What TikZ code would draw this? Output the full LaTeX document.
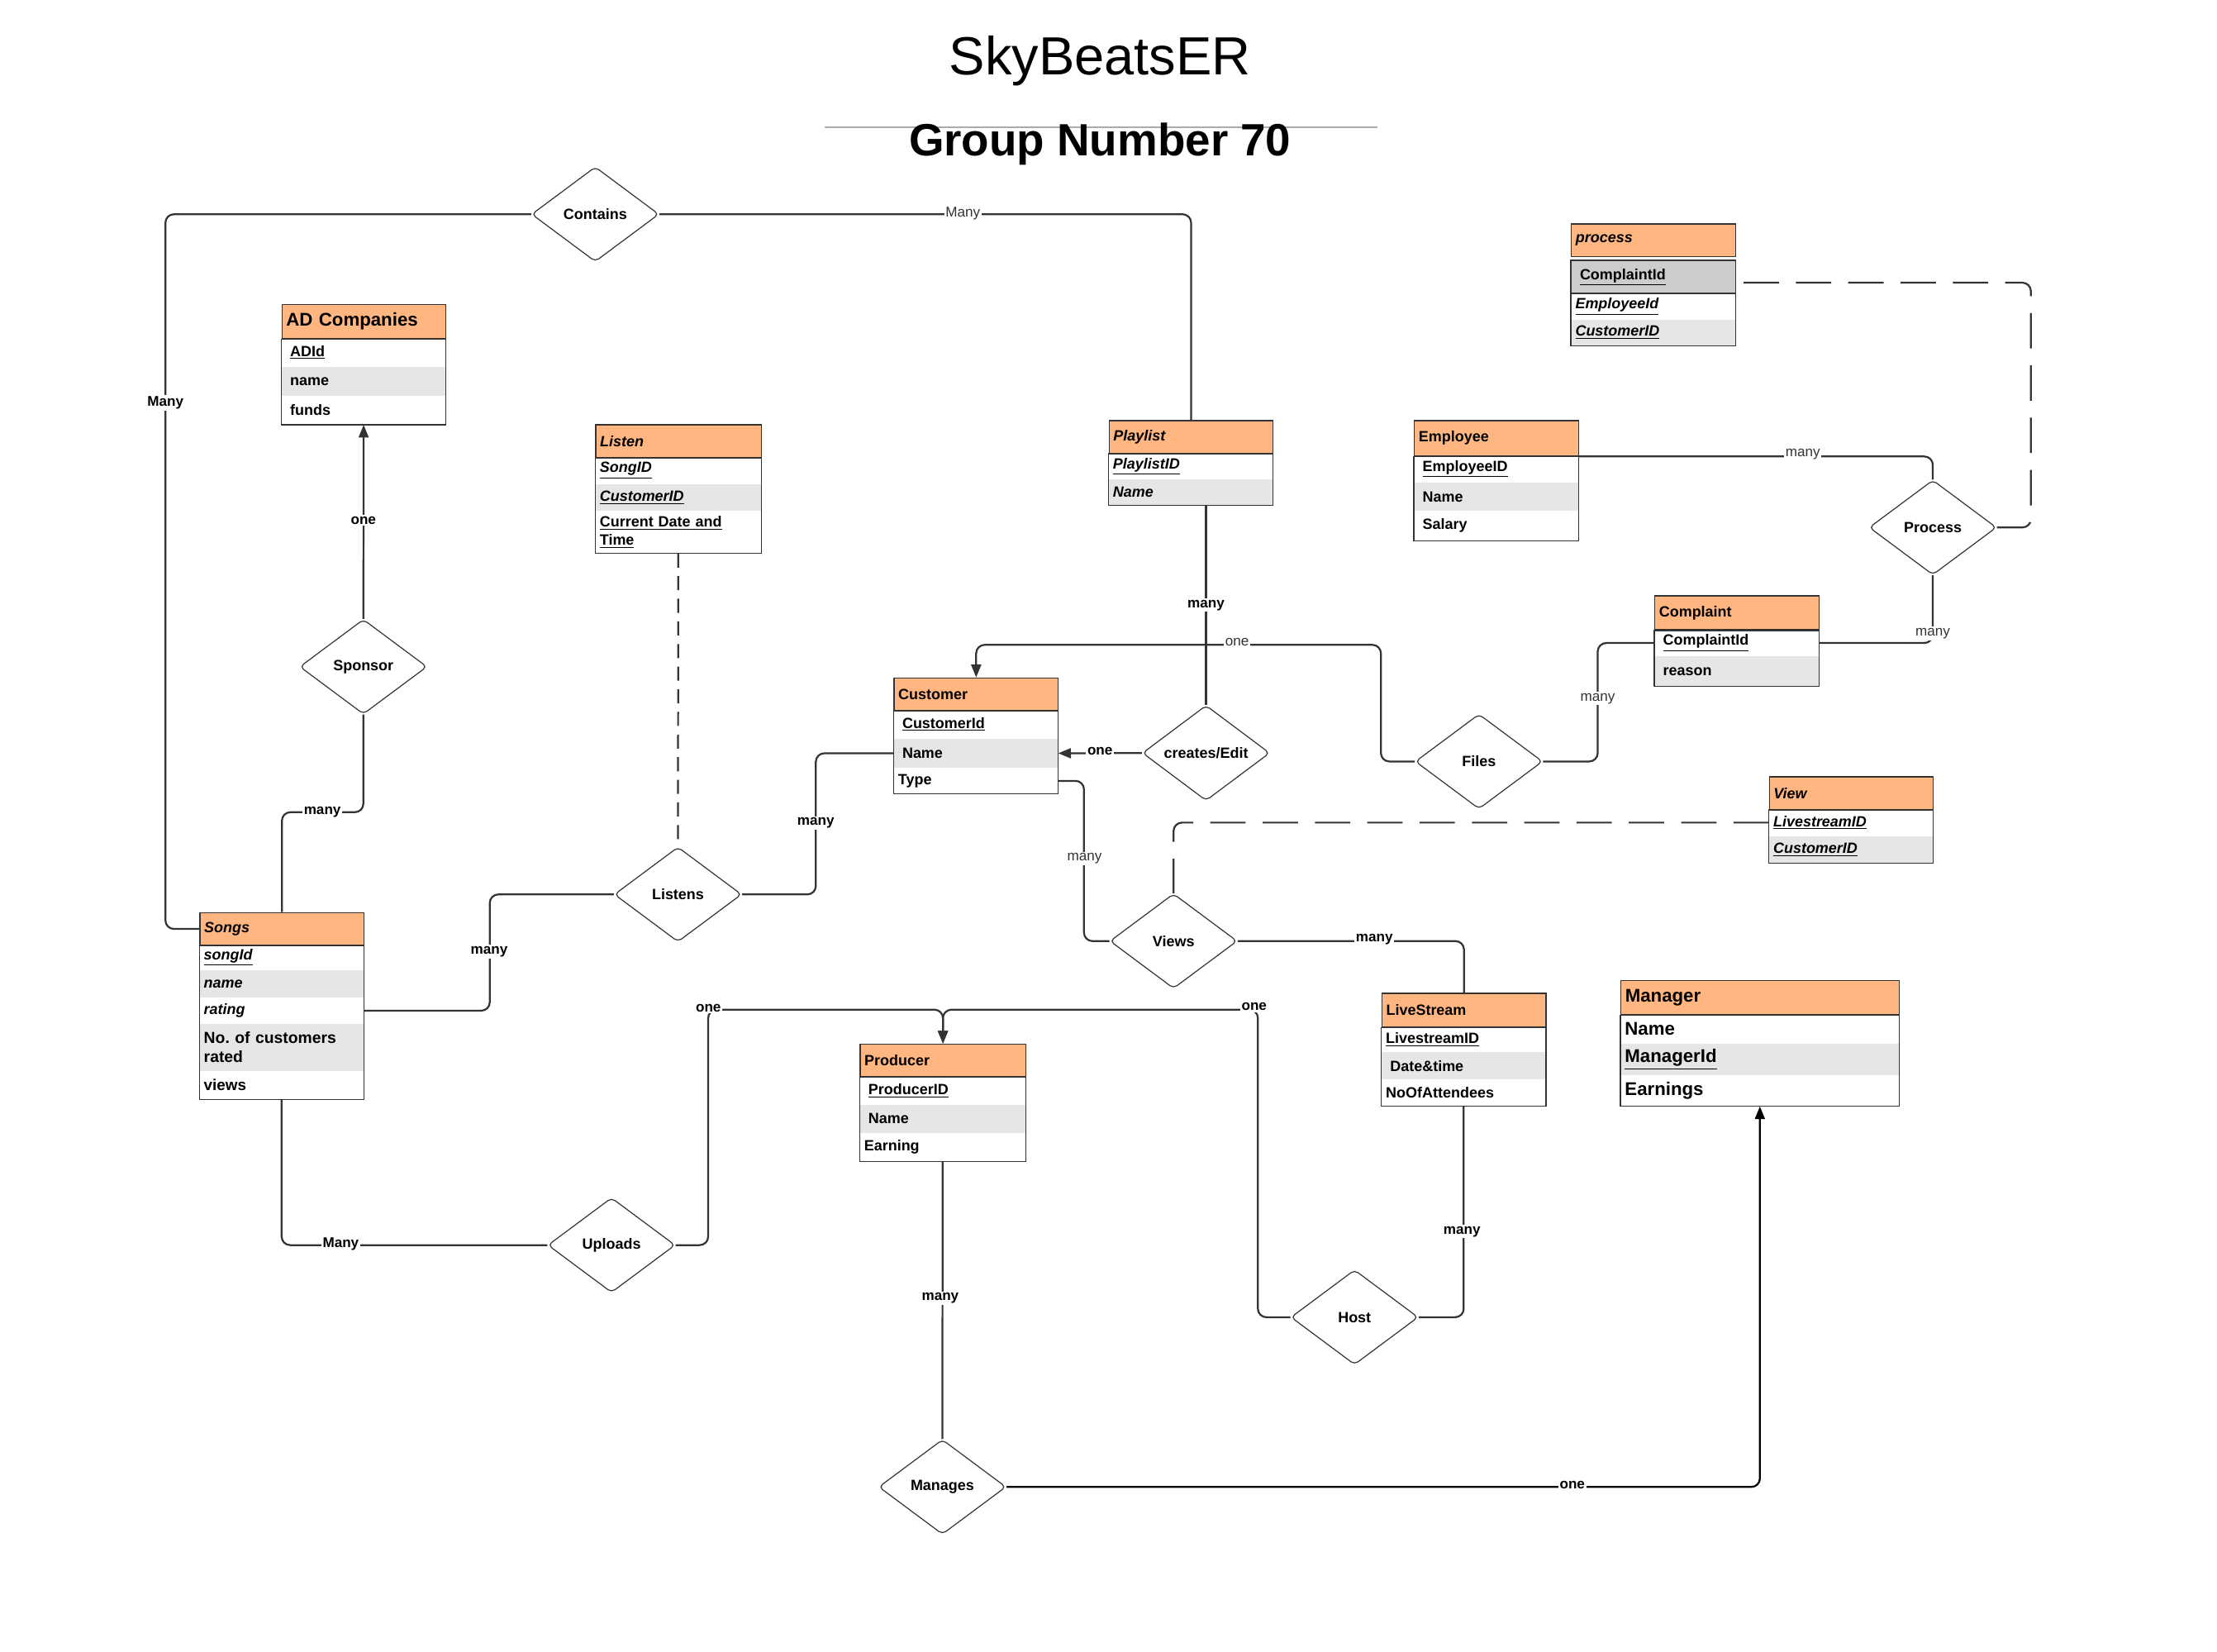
\documentclass[tikz,border=0pt]{standalone}
\usepackage{fontspec}
\setmainfont{Liberation Sans}
\usetikzlibrary{shapes.geometric,arrows.meta}
\definecolor{hdrC}{HTML}{FFB681}
\definecolor{rowG}{HTML}{E6E6E6}
\definecolor{rowD}{HTML}{CCCCCC}
\definecolor{lineC}{HTML}{333333}
\definecolor{ruleC}{HTML}{A8ACB0}
\tikzset{
  cell/.style={anchor=north west, inner xsep=3pt, inner ysep=0pt, text width=#1, align=left,
               minimum height=20pt, font=\fontsize{10.5}{13}\selectfont\bfseries},
  cell/.default=110pt,
  hdr/.style={cell=#1, fill=hdrC, draw=lineC, line width=0.8pt},
  hdr/.default=110pt,
  tbl/.style={draw=lineC, line width=0.8pt},
  rel/.style={diamond, draw=lineC, line width=0.7pt, rounded corners=3pt, minimum width=90pt,
              minimum height=67pt, inner sep=0pt, fill=white, font=\fontsize{10.5}{12.5}\selectfont\bfseries},
  conn/.style={draw=lineC, line width=1.3pt, rounded corners=6pt},
  tip/.style={-{Triangle[length=9pt,width=7pt]}},
  dashlong/.style={dash pattern=on 25pt off 12pt},
  dashshort/.style={dash pattern=on 10pt off 6pt},
  lblb/.style={fill=white, inner sep=1pt, font=\fontsize{10}{12}\selectfont\bfseries},
  lblr/.style={fill=white, inner sep=1pt, font=\fontsize{10}{12}\selectfont, text=lineC},
}
\begin{document}
\begin{tikzpicture}[x=1pt,y=-1pt]
\useasboundingbox (0,0) rectangle (1568,1168.2);
\fill[white] (0,0) rectangle (1568,1168.2);

% ---------- titles ----------
\node (title) at (778,43) {\fontsize{38}{44}\selectfont SkyBeatsER};
\coordinate (ruleA) at (583,90);
\coordinate (ruleB) at (974,90);
\draw[ruleC, line width=1pt] (ruleA) -- (ruleB);
\node (group) at (778,102) {\fontsize{32}{38}\selectfont\bfseries Group Number 70};

% ---------- AD Companies ----------
\node[hdr, minimum height=24pt, font=\fontsize{13}{15}\selectfont\bfseries] (adH) at (199,215) {AD Companies};
\node[cell] (adR1) at (199,239) {\hspace*{3pt}\underline{ADId}};
\node[cell, fill=rowG, minimum height=21pt] (adR2) at (199,259) {\hspace*{3pt}name};
\node[cell] (adR3) at (199,280) {\hspace*{3pt}funds};
\draw[tbl] (adH.south west) rectangle (adR3.south east);

% ---------- Listen ----------
\node[hdr=111pt, minimum height=23pt] (lsnH) at (421,300) {\itshape Listen};
\node[cell=111pt, minimum height=19pt] (lsnR1) at (421,323) {\itshape\underline{SongID}};
\node[cell=111pt, fill=rowG, minimum height=19pt] (lsnR2) at (421,342) {\itshape\underline{CustomerID}};
\node[cell=111pt, minimum height=30pt] (lsnR3) at (421,361) {\underline{Current Date and}\\\underline{Time}};
\draw[tbl] (lsnH.south west) rectangle (lsnR3.south east);

% ---------- Playlist ----------
\node[hdr, minimum height=23pt] (plH) at (784,297) {\itshape Playlist};
\node[cell, minimum height=19pt] (plR1) at (784,320) {\itshape\underline{PlaylistID}};
\node[cell, fill=rowG, minimum height=18pt] (plR2) at (784,339) {\itshape Name};
\draw[tbl] (plH.south west) rectangle (plR2.south east);

% ---------- Employee ----------
\node[hdr, minimum height=25pt] (empH) at (1000,297) {Employee};
\node[cell, minimum height=19pt] (empR1) at (1000,322) {\hspace*{3pt}\underline{EmployeeID}};
\node[cell, fill=rowG, minimum height=20pt] (empR2) at (1000,341) {\hspace*{3pt}Name};
\node[cell, minimum height=21pt] (empR3) at (1000,361) {\hspace*{3pt}Salary};
\draw[tbl] (empH.south west) rectangle (empR3.south east);

% ---------- process ----------
\node[hdr, minimum height=23pt] (procH) at (1111,158) {\itshape process};
\node[cell, fill=rowD, draw=lineC, line width=0.8pt, minimum height=23pt] (procR1) at (1111,184) {\hspace*{3pt}\underline{ComplaintId}};
\node[cell, minimum height=19pt] (procR2) at (1111,207) {\itshape\underline{EmployeeId}};
\node[cell, fill=rowG, minimum height=18pt] (procR3) at (1111,226) {\itshape\underline{CustomerID}};
\draw[tbl] (procR1.north west) rectangle (procR3.south east);

% ---------- Customer ----------
\node[hdr, minimum height=23pt] (custH) at (632,479) {Customer};
\node[cell] (custR1) at (632,502) {\hspace*{3pt}\underline{CustomerId}};
\node[cell, fill=rowG, minimum height=21pt] (custR2) at (632,522) {\hspace*{3pt}Name};
\node[cell, minimum height=18pt] (custR3) at (632,543) {Type};
\draw[tbl] (custH.south west) rectangle (custR3.south east);

% ---------- Complaint ----------
\node[hdr, minimum height=24pt] (compH) at (1170,421) {Complaint};
\node[cell, minimum height=19pt] (compR1) at (1170,445) {\hspace*{3pt}\underline{ComplaintId}};
\node[cell, fill=rowG, minimum height=21pt] (compR2) at (1170,464) {\hspace*{3pt}reason};
\draw[tbl] (compH.south west) rectangle (compR2.south east);

% ---------- View ----------
\node[hdr, minimum height=23pt] (viewH) at (1251,549) {\itshape View};
\node[cell, minimum height=19pt] (viewR1) at (1251,572) {\itshape\underline{LivestreamID}};
\node[cell, fill=rowG, minimum height=19pt] (viewR2) at (1251,591) {\itshape\underline{CustomerID}};
\draw[tbl] (viewH.south west) rectangle (viewR2.south east);

% ---------- Songs ----------
\node[hdr, minimum height=23pt] (songsH) at (141,645) {\itshape Songs};
\node[cell, minimum height=18pt] (songR1) at (141,668) {\itshape\underline{songId}};
\node[cell, fill=rowG, minimum height=19pt] (songR2) at (141,686) {\itshape name};
\node[cell, minimum height=19pt] (songR3) at (141,705) {\itshape rating};
\node[cell, fill=rowG, minimum height=33pt, font=\fontsize{11.3}{13.5}\selectfont\bfseries] (songR4) at (141,724) {No.\ of customers\\rated};
\node[cell, minimum height=20pt, font=\fontsize{11}{13}\selectfont\bfseries] (songR5) at (141,757) {views};
\draw[tbl] (songsH.south west) rectangle (songR5.south east);

% ---------- LiveStream ----------
\node[hdr, minimum height=24pt] (lsH) at (977,702) {LiveStream};
\node[cell, minimum height=18pt] (lsR1) at (977,726) {\underline{LivestreamID}};
\node[cell, fill=rowG, minimum height=19pt] (lsR2) at (977,744) {\hspace*{3pt}Date\&time};
\node[cell, minimum height=19pt] (lsR3) at (977,763) {NoOfAttendees};
\draw[tbl] (lsH.south west) rectangle (lsR3.south east);

% ---------- Manager ----------
\node[hdr=191pt, minimum height=24pt, font=\fontsize{13}{15}\selectfont\bfseries] (mgH) at (1146,693) {Manager};
\node[cell=191pt, minimum height=21pt, font=\fontsize{13}{15}\selectfont\bfseries] (mgR1) at (1146,717) {Name};
\node[cell=191pt, fill=rowG, minimum height=22pt, font=\fontsize{13}{15}\selectfont\bfseries] (mgR2) at (1146,738) {\underline{ManagerId}};
\node[cell=191pt, minimum height=22pt, font=\fontsize{13}{15}\selectfont\bfseries] (mgR3) at (1146,760) {Earnings};
\draw[tbl] (mgH.south west) rectangle (mgR3.south east);

% ---------- Producer ----------
\node[hdr=111pt, minimum height=23pt] (prH) at (608,738) {Producer};
\node[cell=111pt] (prR1) at (608,761) {\hspace*{3pt}\underline{ProducerID}};
\node[cell=111pt, fill=rowG] (prR2) at (608,781) {\hspace*{3pt}Name};
\node[cell=111pt] (prR3) at (608,801) {Earning};
\draw[tbl] (prH.south west) rectangle (prR3.south east);

% ---------- relationships ----------
\node[rel] (contains) at (421,151.5) {Contains};
\node[rel] (sponsor) at (257,471.5) {Sponsor};
\node[rel] (listens) at (479.5,632.5) {Listens};
\node[rel] (creates) at (853,532.5) {creates/Edit};
\node[rel] (files) at (1046,538.5) {Files};
\node[rel] (dProc) at (1367,373) {Process};
\node[rel] (views) at (830,665.5) {Views};
\node[rel] (host) at (958,931.5) {Host};
\node[rel] (uploads) at (432.5,880.5) {Uploads};
\node[rel] (manages) at (666.5,1051.5) {Manages};

% ---------- connectors ----------
\draw[conn] (contains.west) -| ([xshift=-24pt]songsH.west) -- (songsH.west);
\draw[conn] (contains.east) -| (plH.north);
\draw[conn, tip] (sponsor.north) -- (adR3.south);
\draw[conn] (sponsor.south) -- ++(0,69) -| (songsH.north);
\draw[conn, dashshort, rounded corners=0pt] (lsnR3.south) -- (listens.north);
\draw[conn] (listens.east) -| ([xshift=-55pt]custR2.west) -- (custR2.west);
\draw[conn] (listens.west) -| ([xshift=89pt]songR3.east) -- (songR3.east);
\draw[conn] (songR5.south) |- (uploads.west);
\draw[conn, tip] (uploads.east) -- ++(23,0) |- ([yshift=24pt]prH.north) -- (prH.north);
\draw[conn, tip] (host.west) -- ++(-23,0) |- ([yshift=24pt]prH.north) -- (prH.north);
\draw[conn] (prR3.south) -- (manages.north);
\draw[conn, draw=black, tip] (manages.east) -| (mgR3.south);
\draw[conn] (plR2.south -| creates.north) -- (creates.north);
\draw[conn, tip] (creates.west) -- (custR2.east);
\draw[conn, tip] (files.west) -- ++(-24,0) |- ([yshift=23pt]custH.north) -- (custH.north);
\draw[conn] (files.east) -| ([xshift=-40pt]compR1.west) -- (compR1.west);
\draw[conn] (compR1.east) -| (dProc.south);
\draw[conn] (empH.south east) -| (dProc.north);
\draw[conn, dashlong] (dProc.east) -- ([xshift=24pt]dProc.east) |- ([yshift=-4pt]procR1.east);
\draw[conn, dashlong] (viewR1.west) -| (views.north);
\draw[conn] (custR3.east) -| ([xshift=-18pt]views.west) -- (views.west);
\draw[conn] (views.east) -| (lsH.north);
\draw[conn] (lsR3.south) |- (host.east);

% ---------- cardinality labels ----------
\node[lblb] (l1) at (117,285) {Many};
\node[lblr] (l2) at (681,151) {Many};
\node[lblb] (l3) at (257,368) {one};
\node[lblb] (l4) at (228,574) {many};
\node[lblb] (l5) at (577,582) {many};
\node[lblb] (l6) at (346,673) {many};
\node[lblb] (l7) at (853,428) {many};
\node[lblb] (l8) at (778,531) {one};
\node[lblr] (l9) at (875,454) {one};
\node[lblr] (l10) at (1130,494) {many};
\node[lblr] (l11) at (1367,448) {many};
\node[lblr] (l12) at (1275,321) {many};
\node[lblr] (l13) at (767,607) {many};
\node[lblb] (l14) at (972,664) {many};
\node[lblb] (l15) at (1034,871) {many};
\node[lblb] (l16) at (501,713) {one};
\node[lblb] (l17) at (887,712) {one};
\node[lblb] (l18) at (665,918) {many};
\node[lblb] (l19) at (1112,1050) {one};
\node[lblb] (l20) at (241,880) {Many};
\end{tikzpicture}
\end{document}
